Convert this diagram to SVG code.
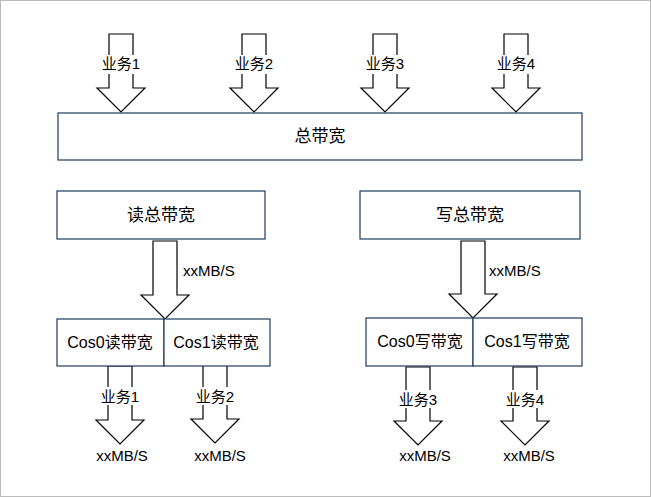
<svg xmlns="http://www.w3.org/2000/svg" width="651" height="497" viewBox="0 0 651 497">
<style>
.box{fill:#fff;stroke:#1f3a5f;stroke-width:1.2}
.arr{fill:#fff;stroke:#000;stroke-width:1.2}
text{font-family:"Liberation Sans","Noto Sans CJK SC",sans-serif;font-size:15px;fill:#000}
.c{text-anchor:middle}
.lb{fill:#fff}
</style>
<defs>
<path id="ba" d="M-12,0 H12 V54 H24 L0,78 L-24,54 H-12 Z"/>
</defs>
<rect x="0.5" y="0.5" width="650" height="496" fill="#fff" stroke="#bbb"/>
<g id="connectors">
<use href="#ba" class="arr" x="121" y="34"/>
<use href="#ba" class="arr" x="254" y="34"/>
<use href="#ba" class="arr" x="385" y="34"/>
<use href="#ba" class="arr" x="516" y="34"/>
<rect class="lb" x="98" y="55" width="46" height="19"/><text class="c" x="121" y="69">业务1</text>
<rect class="lb" x="231" y="55" width="46" height="19"/><text class="c" x="254" y="69">业务2</text>
<rect class="lb" x="362" y="55" width="46" height="19"/><text class="c" x="385" y="69">业务3</text>
<rect class="lb" x="493" y="55" width="46" height="19"/><text class="c" x="516" y="69">业务4</text>
<path class="arr" d="M153,241 H177 V295 H189 L165,319 L141,295 H153 Z"/>
<text x="183" y="276">xxMB/S</text>
<path class="arr" d="M461,241 H485 V294 H497 L473,318 L449,294 H461 Z"/>
<text x="489" y="276">xxMB/S</text>
<use href="#ba" class="arr" x="120" y="366"/>
<use href="#ba" class="arr" x="215" y="365"/>
<use href="#ba" class="arr" x="418" y="367"/>
<use href="#ba" class="arr" x="525" y="367"/>
<rect class="lb" x="97" y="387" width="46" height="18"/><text class="c" x="120" y="402">业务1</text>
<rect class="lb" x="192" y="387" width="46" height="18"/><text class="c" x="215" y="402">业务2</text>
<rect class="lb" x="395" y="390" width="46" height="18"/><text class="c" x="418" y="405">业务3</text>
<rect class="lb" x="502" y="390" width="46" height="18"/><text class="c" x="525" y="405">业务4</text>
<text class="c" x="122" y="461">xxMB/S</text>
<text class="c" x="220" y="461">xxMB/S</text>
<text class="c" x="425" y="461">xxMB/S</text>
<text class="c" x="529" y="461">xxMB/S</text>
</g>
<g id="total"><rect class="box" x="58" y="113" width="524" height="47"/><text class="c" x="320" y="142" style="font-size:17px">总带宽</text></g>
<g id="read"><rect class="box" x="57" y="191" width="208" height="48"/><text class="c" x="161" y="221" style="font-size:17px">读总带宽</text></g>
<g id="write"><rect class="box" x="360" y="191" width="220" height="48"/><text class="c" x="470" y="221" style="font-size:17px">写总带宽</text></g>
<g id="cos0r"><rect class="box" x="57" y="319" width="107" height="47"/><text class="c" x="110" y="348" style="font-size:16px">Cos0读带宽</text></g>
<g id="cos1r"><rect class="box" x="164" y="319" width="106" height="47"/><text class="c" x="216" y="348" style="font-size:16px">Cos1读带宽</text></g>
<g id="cos0w"><rect class="box" x="366" y="318" width="107" height="48"/><text class="c" x="420" y="347" style="font-size:16px">Cos0写带宽</text></g>
<g id="cos1w"><rect class="box" x="473" y="318" width="109" height="48"/><text class="c" x="527" y="347" style="font-size:16px">Cos1写带宽</text></g>
</svg>
